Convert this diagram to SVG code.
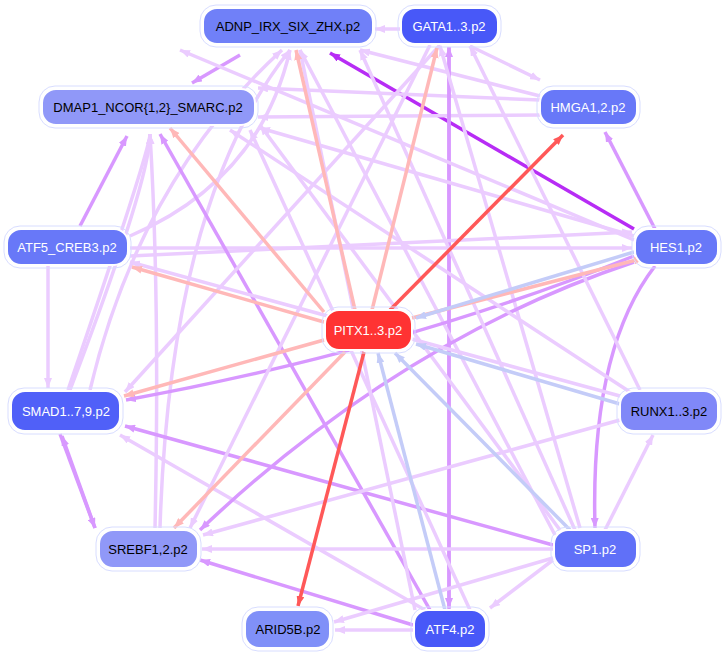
<svg xmlns="http://www.w3.org/2000/svg" width="726" height="662" viewBox="0 0 726 662">
<style>
.n rect{stroke:#ffffff;stroke-width:2}
.n .h{fill:none;stroke:#d8ddff;stroke-width:1}
.n text{font-family:"Liberation Sans",Arial,sans-serif;font-size:13px;text-anchor:middle;dominant-baseline:central}
.w{fill:#ffffff}.k{fill:#000000}
#e path{fill:none;stroke-width:3.5}
.l{stroke:#ebccff}.m{stroke:#d898ff}.s{stroke:#b72cf5}.p{stroke:#ffb8b8}.r{stroke:#ff5858}.b{stroke:#c4ccf8}
</style>
<defs>
<marker id="al" viewBox="0 0 10 8" refX="10" refY="4" markerWidth="10" markerHeight="8" markerUnits="userSpaceOnUse" orient="auto"><path d="M0,0L10,4L0,8z" fill="#ebccff"/></marker>
<marker id="am" viewBox="0 0 10 8" refX="10" refY="4" markerWidth="10" markerHeight="8" markerUnits="userSpaceOnUse" orient="auto"><path d="M0,0L10,4L0,8z" fill="#d898ff"/></marker>
<marker id="as" viewBox="0 0 10 8" refX="10" refY="4" markerWidth="10" markerHeight="8" markerUnits="userSpaceOnUse" orient="auto"><path d="M0,0L10,4L0,8z" fill="#b72cf5"/></marker>
<marker id="ap" viewBox="0 0 10 8" refX="10" refY="4" markerWidth="10" markerHeight="8" markerUnits="userSpaceOnUse" orient="auto"><path d="M0,0L10,4L0,8z" fill="#ffb8b8"/></marker>
<marker id="ar" viewBox="0 0 10 8" refX="10" refY="4" markerWidth="10" markerHeight="8" markerUnits="userSpaceOnUse" orient="auto"><path d="M0,0L10,4L0,8z" fill="#ff5858"/></marker>
<marker id="ab" viewBox="0 0 10 8" refX="10" refY="4" markerWidth="10" markerHeight="8" markerUnits="userSpaceOnUse" orient="auto"><path d="M0,0L10,4L0,8z" fill="#c4ccf8"/></marker>
</defs>
<rect width="726" height="662" fill="#ffffff"/>
<g id="e">
<path class="l" marker-end="url(#al)" d="M400,29L375,29"/>
<path class="m" marker-end="url(#am)" d="M240,55L192,83"/>
<path class="s" marker-end="url(#as)" d="M634,229L330,53"/>
<path class="l" marker-end="url(#al)" d="M540,100L258,88"/>
<path class="l" marker-end="url(#al)" d="M540,115L258,117"/>
<path class="l" marker-end="url(#al)" d="M540,96L360,50"/>
<path class="l" marker-end="url(#al)" d="M470,46L540,80"/>
<path class="m" marker-end="url(#am)" d="M655,229L605,132"/>
<path class="m" marker-end="url(#am)" d="M449,610L449,47"/>
<path class="m" marker-end="url(#am)" d="M449,47L449,608"/>
<path class="l" marker-end="url(#al)" d="M130,248L632,248"/>
<path class="l" marker-end="url(#al)" d="M130,256L632,232"/>
<path class="m" marker-end="url(#am)" d="M80,226L127,136"/>
<path class="l" marker-end="url(#al)" d="M130,236Q260,180 290,50"/>
<path class="l" marker-end="url(#al)" d="M48,266L48,388"/>
<path class="l" marker-end="url(#al)" d="M90,390Q140,180 282,50"/>
<path class="l" marker-end="url(#al)" d="M68,390Q150,150 150,134"/>
<path class="l" marker-end="url(#al)" d="M70,390Q150,180 150,134"/>
<path class="l" marker-end="url(#al)" d="M160,528Q170,200 290,50"/>
<path class="l" marker-end="url(#al)" d="M155,528Q160,300 150,134"/>
<path class="m" marker-end="url(#am)" d="M60,434L95,528"/>
<path class="m" marker-end="url(#am)" d="M95,528L62,436"/>
<path class="m" marker-end="url(#am)" d="M430,610L160,134"/>
<path class="l" marker-end="url(#al)" d="M425,610L120,435"/>
<path class="m" marker-end="url(#am)" d="M413,625L200,560"/>
<path class="l" marker-end="url(#al)" d="M413,630L335,630"/>
<path class="m" marker-end="url(#am)" d="M553,545L125,426"/>
<path class="l" marker-end="url(#al)" d="M553,549L202,549"/>
<path class="l" marker-end="url(#al)" d="M553,558L334,622"/>
<path class="l" marker-end="url(#al)" d="M553,560L490,608"/>
<path class="l" marker-end="url(#al)" d="M605,530L653,435"/>
<path class="l" marker-end="url(#al)" d="M555,535L300,50"/>
<path class="l" marker-end="url(#al)" d="M580,528L440,46"/>
<path class="l" marker-end="url(#al)" d="M560,530L260,125"/>
<path class="m" marker-end="url(#am)" d="M655,266Q590,350 595,528"/>
<path class="m" marker-end="url(#am)" d="M634,256Q400,350 126,400"/>
<path class="m" marker-end="url(#am)" d="M634,262Q400,340 200,530"/>
<path class="l" marker-end="url(#al)" d="M634,240L180,50"/>
<path class="l" marker-end="url(#al)" d="M634,236L260,128"/>
<path class="l" marker-end="url(#al)" d="M620,420L203,535"/>
<path class="l" marker-end="url(#al)" d="M630,392L230,130"/>
<path class="l" marker-end="url(#al)" d="M640,390L470,46"/>
<path class="l" marker-end="url(#al)" d="M620,396L130,262"/>
<path class="l" marker-end="url(#al)" d="M430,45L190,528"/>
<path class="l" marker-end="url(#al)" d="M440,45L125,392"/>
<path class="l" marker-end="url(#al)" d="M415,610L300,50"/>
<path class="l" marker-end="url(#al)" d="M470,610L250,130"/>
<path class="l" marker-end="url(#al)" d="M575,530L360,50"/>
<path class="p" marker-end="url(#ap)" d="M372,310L437,48"/>
<path class="p" marker-end="url(#ap)" d="M355,310L296,50"/>
<path class="r" marker-end="url(#ar)" d="M390,310L563,135"/>
<path class="r" marker-end="url(#ar)" d="M364,352L298,606"/>
<path class="p" marker-end="url(#ap)" d="M324,340L124,396"/>
<path class="p" marker-end="url(#ap)" d="M345,352L174,528"/>
<path class="p" marker-end="url(#ap)" d="M324,322L132,267"/>
<path class="p" marker-end="url(#ap)" d="M412,318L644,258"/>
<path class="p" marker-end="url(#ap)" d="M324,312L170,128"/>
<path class="b" marker-end="url(#ab)" d="M634,252L416,318"/>
<path class="b" marker-end="url(#ab)" d="M620,404L416,344"/>
<path class="b" marker-end="url(#ab)" d="M445,610L378,353"/>
<path class="b" marker-end="url(#ab)" d="M570,530L395,353"/>
</g>
<g id="n_adnp" class="n"><rect class="h" x="200" y="5" width="176" height="42" rx="16"/><rect x="203" y="8" width="170" height="36" rx="14" fill="#7080f8"/><text x="288" y="26" class="k">ADNP_IRX_SIX_ZHX.p2</text></g>
<g id="n_gata" class="n"><rect class="h" x="398" y="5" width="103" height="42" rx="16"/><rect x="401" y="8" width="97" height="36" rx="14" fill="#4858f8"/><text x="449" y="26" class="w">GATA1..3.p2</text></g>
<g id="n_dmap" class="n"><rect class="h" x="39" y="86" width="219" height="42" rx="16"/><rect x="42" y="89" width="213" height="36" rx="14" fill="#9098f8"/><text x="148" y="107" class="k">DMAP1_NCOR{1,2}_SMARC.p2</text></g>
<g id="n_hmga" class="n"><rect class="h" x="537" y="86" width="103" height="42" rx="16"/><rect x="540" y="89" width="97" height="36" rx="14" fill="#6878f8"/><text x="588" y="107" class="w">HMGA1,2.p2</text></g>
<g id="n_atf5" class="n"><rect class="h" x="4" y="226" width="127" height="42" rx="16"/><rect x="7" y="229" width="121" height="36" rx="14" fill="#6878f8"/><text x="67" y="247" class="w">ATF5_CREB3.p2</text></g>
<g id="n_hes1" class="n"><rect class="h" x="632" y="226" width="89" height="42" rx="16"/><rect x="635" y="229" width="83" height="36" rx="14" fill="#6878f8"/><text x="676" y="247" class="w">HES1.p2</text></g>
<g id="n_pitx" class="n"><rect class="h" x="322" y="307" width="93" height="46" rx="16"/><rect x="325" y="310" width="87" height="40" rx="14" fill="#ff3333"/><text x="368" y="330" class="w">PITX1..3.p2</text></g>
<g id="n_smad" class="n"><rect class="h" x="8" y="388" width="115" height="46" rx="16"/><rect x="11" y="391" width="109" height="40" rx="14" fill="#5060f8"/><text x="66" y="411" class="w">SMAD1..7,9.p2</text></g>
<g id="n_runx" class="n"><rect class="h" x="617" y="388" width="104" height="46" rx="16"/><rect x="620" y="391" width="98" height="40" rx="14" fill="#8088f8"/><text x="669" y="411" class="k">RUNX1..3.p2</text></g>
<g id="n_srebf" class="n"><rect class="h" x="96" y="527" width="105" height="44" rx="16"/><rect x="99" y="530" width="99" height="38" rx="14" fill="#9098f8"/><text x="148" y="549" class="k">SREBF1,2.p2</text></g>
<g id="n_sp1" class="n"><rect class="h" x="551" y="527" width="89" height="44" rx="16"/><rect x="554" y="530" width="83" height="38" rx="14" fill="#6070f8"/><text x="595" y="549" class="w">SP1.p2</text></g>
<g id="n_arid" class="n"><rect class="h" x="242" y="607" width="91" height="44" rx="16"/><rect x="245" y="610" width="85" height="38" rx="14" fill="#8090f8"/><text x="288" y="629" class="k">ARID5B.p2</text></g>
<g id="n_atf4" class="n"><rect class="h" x="411" y="607" width="78" height="44" rx="16"/><rect x="414" y="610" width="72" height="38" rx="14" fill="#4858f8"/><text x="450" y="629" class="w">ATF4.p2</text></g>
</svg>
